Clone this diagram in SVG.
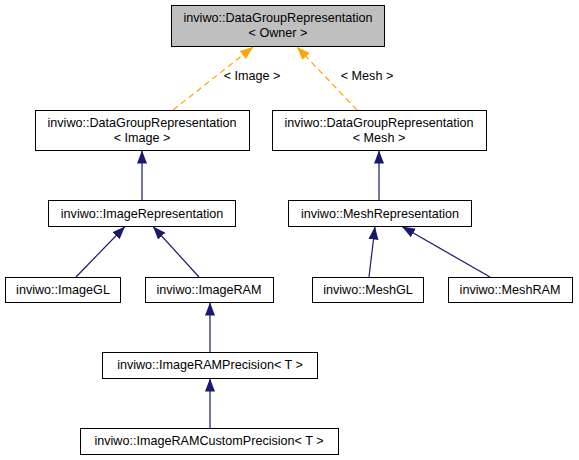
<svg xmlns="http://www.w3.org/2000/svg" width="579" height="460" viewBox="0 0 579 460">
<style>
text{font-family:"Liberation Sans",Arial,sans-serif;font-size:12.6px;fill:#000;text-anchor:middle}
.box{fill:#fff;stroke:#000;stroke-width:1}
.root{fill:#bfbfbf;stroke:#000;stroke-width:1}
.inh{fill:none;stroke:#191970;stroke-width:1.2}
.tpl{fill:none;stroke:#ffa500;stroke-width:1.2;stroke-dasharray:6,4}
</style>
<defs>
<marker id="ab" markerUnits="userSpaceOnUse" markerWidth="14" markerHeight="12" refX="13" refY="5.5" orient="auto">
<path d="M0,0.5 L13,5.5 L0,10.5 Z" fill="#191970"/>
</marker>
<marker id="ao" markerUnits="userSpaceOnUse" markerWidth="14" markerHeight="12" refX="13" refY="5.5" orient="auto">
<path d="M0,0.5 L13,5.5 L0,10.5 Z" fill="#ffa500"/>
</marker>
</defs>
<g id="edges">
<path class="tpl" d="M173,110 L253,47" marker-end="url(#ao)"/>
<text x="252" y="80">&lt; Image &gt;</text>
<path class="tpl" d="M357,110 L297,47" marker-end="url(#ao)"/>
<text x="367" y="80">&lt; Mesh &gt;</text>
<path class="inh" d="M142,200 L142,150.5" marker-end="url(#ab)"/>
<path class="inh" d="M379,200 L379,150.5" marker-end="url(#ab)"/>
<path class="inh" d="M76,277 L125,226.5" marker-end="url(#ab)"/>
<path class="inh" d="M199,277 L153,226.5" marker-end="url(#ab)"/>
<path class="inh" d="M369,277 L375,226.5" marker-end="url(#ab)"/>
<path class="inh" d="M490,277 L402,226.5" marker-end="url(#ab)"/>
<path class="inh" d="M210,352 L210,302.5" marker-end="url(#ab)"/>
<path class="inh" d="M210,428 L210,378.5" marker-end="url(#ab)"/>
</g>
<g id="n_owner">
<rect class="root" x="171.5" y="5.5" width="213" height="41"/>
<text x="278" y="22">inviwo::DataGroupRepresentation</text>
<text x="278" y="37">&lt; Owner &gt;</text>
</g>
<g id="n_dgr_image">
<rect class="box" x="35.5" y="110.5" width="214" height="40"/>
<text x="142" y="127">inviwo::DataGroupRepresentation</text>
<text x="142" y="142">&lt; Image &gt;</text>
</g>
<g id="n_dgr_mesh">
<rect class="box" x="272.5" y="110.5" width="214" height="40"/>
<text x="379" y="127">inviwo::DataGroupRepresentation</text>
<text x="379" y="142">&lt; Mesh &gt;</text>
</g>
<g id="n_imagerep">
<rect class="box" x="48.5" y="200.5" width="187" height="26"/>
<text x="142" y="218">inviwo::ImageRepresentation</text>
</g>
<g id="n_meshrep">
<rect class="box" x="288.5" y="200.5" width="183" height="26"/>
<text x="380" y="218">inviwo::MeshRepresentation</text>
</g>
<g id="n_imagegl">
<rect class="box" x="5.5" y="277.5" width="115" height="25"/>
<text x="63" y="294">inviwo::ImageGL</text>
</g>
<g id="n_imageram">
<rect class="box" x="145.5" y="277.5" width="128" height="25"/>
<text x="209" y="294">inviwo::ImageRAM</text>
</g>
<g id="n_meshgl">
<rect class="box" x="312.5" y="277.5" width="111" height="25"/>
<text x="368" y="294">inviwo::MeshGL</text>
</g>
<g id="n_meshram">
<rect class="box" x="448.5" y="277.5" width="124" height="25"/>
<text x="510" y="294">inviwo::MeshRAM</text>
</g>
<g id="n_prec">
<rect class="box" x="102.5" y="352.5" width="215" height="26"/>
<text x="210" y="369">inviwo::ImageRAMPrecision&lt; T &gt;</text>
</g>
<g id="n_custom">
<rect class="box" x="80.5" y="428.5" width="258" height="26"/>
<text x="209" y="445">inviwo::ImageRAMCustomPrecision&lt; T &gt;</text>
</g>
</svg>
